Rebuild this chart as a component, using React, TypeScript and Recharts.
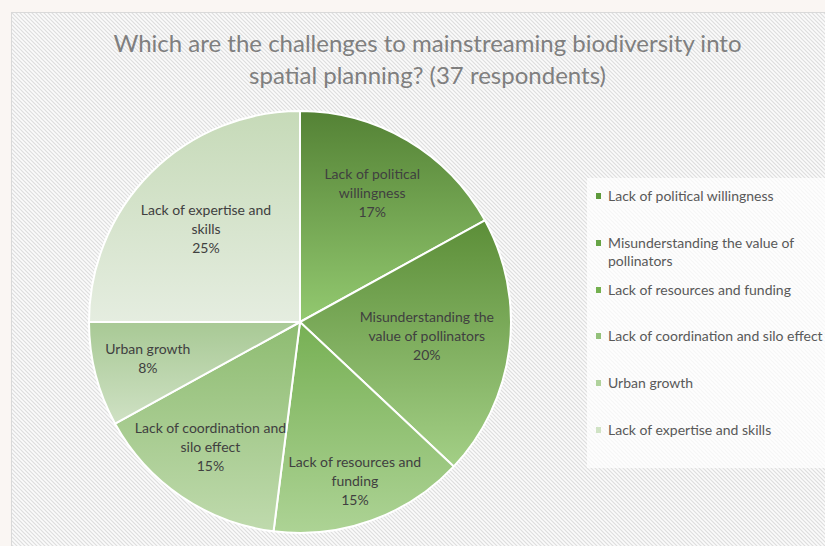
import React from 'react'
import { PieChart, Pie, Cell, Legend } from 'recharts'

const categories = [
  'Lack of political willingness',
  'Misunderstanding the value of pollinators',
  'Lack of resources and funding',
  'Lack of coordination and silo effect',
  'Urban growth',
  'Lack of expertise and skills',
]
const shares = [17, 20, 15, 15, 8, 25]
const sliceLabelLines = [
  ['Lack of political', 'willingness'],
  ['Misunderstanding the', 'value of pollinators'],
  ['Lack of resources and', 'funding'],
  ['Lack of coordination and', 'silo effect'],
  ['Urban growth'],
  ['Lack of expertise and', 'skills'],
]
const legendLines = [
  ['Lack of political willingness'],
  ['Misunderstanding the value of', 'pollinators'],
  ['Lack of resources and funding'],
  ['Lack of coordination and silo effect'],
  ['Urban growth'],
  ['Lack of expertise and skills'],
]

// top / bottom of each slice's vertical gradient
const GRAD = [
  ['#548235', '#93c970'],
  ['#5c8e38', '#a3cf86'],
  ['#77b054', '#add395'],
  ['#8ebc71', '#bfdaad'],
  ['#a8c995', '#cfe1c4'],
  ['#c6dab8', '#e5ede0'],
]
const MARK = ['#5e9a3c', '#67a446', '#74b04f', '#93c17a', '#b0d29c', '#d0e3c5']
// how far out (fraction of radius) each slice label sits
const LABEL_R = [0.7, 0.62, 0.81, 0.73, 0.73, 0.61]

const data = categories.map((name, i) => ({ name, value: shares[i] }))

const FONT = 'Lato, "Open Sans", sans-serif'
const RAD = Math.PI / 180

// 4px diagonal hatch tile, Excel-style
const HATCH = `url("data:image/svg+xml,${encodeURIComponent(
  '<svg xmlns="http://www.w3.org/2000/svg" width="4" height="4">' +
  '<rect width="4" height="4" fill="#fbfbfb"/>' +
  '<path d="M-1,-1 L5,5 M3,-1 L5,1 M-1,3 L1,5" stroke="#dedede" stroke-width="1.2"/></svg>'
)}")`

const renderLabel = (p: any) => {
  const { cx, cy, midAngle, outerRadius, index, percent } = p
  const r = outerRadius * LABEL_R[index]
  const x = cx + r * Math.cos(-midAngle * RAD) - 3
  const y = cy + r * Math.sin(-midAngle * RAD) - 3
  const lines = [...sliceLabelLines[index], `${Math.round(percent * 100)}%`]
  const lh = 19
  const y0 = y - ((lines.length - 1) * lh) / 2
  return (
    <text x={x} y={y0} textAnchor="middle" dominantBaseline="central" fill="#404040"
      style={{ fontFamily: FONT, fontSize: 14 }}>
      {lines.map((l, k) => (
        <tspan key={k} x={x} y={y0 + k * lh}>{l}</tspan>
      ))}
    </text>
  )
}

const LegendBox = () => (
  <div style={{ position: 'relative', fontFamily: FONT, fontSize: 14, color: '#595959' }}>
    {legendLines.map((lines, i) => (
      <div key={i} style={{ position: 'absolute', left: 0, top: i * 46.8, whiteSpace: 'nowrap' }}>
        <span style={{
          position: 'absolute', left: 0, top: 6, width: 5, height: 6, background: MARK[i],
        }} />
        {lines.map((l, k) => (
          <div key={k} style={{ marginLeft: 12, lineHeight: '18px' }}>{l}</div>
        ))}
      </div>
    ))}
  </div>
)

export default function App() {
  return (
    <div style={{ position: 'fixed', left: 0, top: 0, width: 825, height: 546, background: '#faf6f3', overflow: 'hidden' }}>
      <div style={{
        position: 'absolute', left: 11, top: 12, width: 830, height: 550,
        border: '1px solid #d9d9d9',
        backgroundImage: HATCH,
      }} />
      <div style={{
        position: 'absolute', left: 587, top: 178, width: 250, height: 290,
        background: 'rgba(255,255,255,0.72)',
      }} />
      <div style={{
        position: 'absolute', left: 0, top: 27, width: 855, textAlign: 'center',
        fontFamily: FONT, fontSize: 24, lineHeight: '32px', color: '#7f7f7f',
      }}>
        Which are the challenges to mainstreaming biodiversity into<br />spatial planning? (37 respondents)
      </div>
      <div style={{ position: 'absolute', left: 0, top: 0 }}>
        <PieChart width={825} height={546} margin={{ top: 0, right: 0, bottom: 0, left: 0 }}>
          <defs>
            {GRAD.map(([a, b], i) => (
              <linearGradient key={i} id={`g${i}`} x1="0" y1="0" x2="0" y2="1">
                <stop offset="0%" stopColor={a} />
                <stop offset="100%" stopColor={b} />
              </linearGradient>
            ))}
          </defs>
          <Pie
            data={data}
            dataKey="value"
            nameKey="name"
            cx={300}
            cy={322}
            outerRadius={211}
            startAngle={90}
            endAngle={-270}
            stroke="#ffffff"
            strokeWidth={2}
            label={renderLabel}
            labelLine={false}
            isAnimationActive={false}
          >
            {data.map((_, i) => (
              <Cell key={i} fill={`url(#g${i})`} />
            ))}
          </Pie>
          <Legend
            layout="vertical"
            verticalAlign="top"
            align="right"
            wrapperStyle={{ position: 'absolute', left: 596, top: 187, width: 230 }}
            content={() => <LegendBox />}
          />
        </PieChart>
      </div>
    </div>
  )
}
